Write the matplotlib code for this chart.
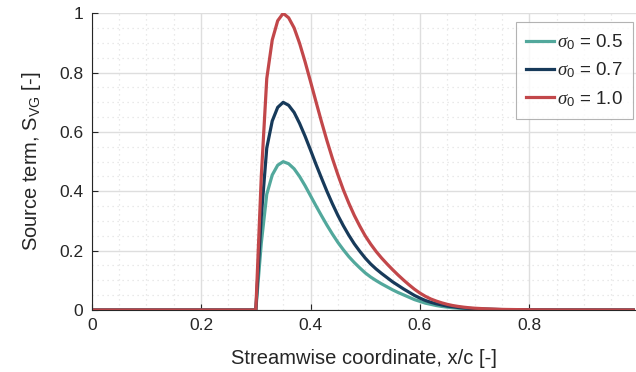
import matplotlib
matplotlib.use('Agg')
import matplotlib.pyplot as plt
from matplotlib.ticker import MultipleLocator, FuncFormatter

# streamwise positions (x/c) where the curves are sampled
x_c = [0.0, 0.30, 0.31, 0.32, 0.33, 0.34, 0.35, 0.36, 0.37, 0.38, 0.39,
       0.40, 0.41, 0.42, 0.43, 0.44, 0.45, 0.46, 0.47, 0.48, 0.49,
       0.50, 0.51, 0.52, 0.53, 0.54, 0.55, 0.56, 0.57, 0.58, 0.59,
       0.60, 0.61, 0.62, 0.63, 0.64, 0.65, 0.66, 0.67, 0.68, 0.69,
       0.70, 0.72, 0.75, 0.80, 0.85, 0.99]

# source term, one list per sigma_0
s_05 = [0.0, 0.0, 0.225, 0.39, 0.455, 0.488, 0.5, 0.493, 0.476, 0.45, 0.419,
        0.385, 0.351, 0.318, 0.286, 0.256, 0.228, 0.203, 0.18, 0.16, 0.142,
        0.125, 0.111, 0.099, 0.088, 0.078, 0.068, 0.059, 0.051, 0.043, 0.035,
        0.029, 0.023, 0.019, 0.015, 0.012, 0.0095, 0.0075, 0.006, 0.0048, 0.0038,
        0.003, 0.002, 0.001, 0.0004, 0.0001, 0.0]
s_07 = [0.0, 0.0, 0.315, 0.546, 0.637, 0.683, 0.7, 0.69, 0.666, 0.629, 0.586,
        0.539, 0.491, 0.445, 0.4, 0.358, 0.319, 0.284, 0.252, 0.223, 0.198,
        0.175, 0.155, 0.138, 0.123, 0.109, 0.095, 0.083, 0.071, 0.06, 0.049,
        0.04, 0.032, 0.026, 0.021, 0.017, 0.013, 0.011, 0.0084, 0.0067, 0.0053,
        0.0042, 0.0028, 0.0014, 0.0005, 0.0001, 0.0]
s_10 = [0.0, 0.0, 0.45, 0.78, 0.91, 0.975, 1.0, 0.985, 0.951, 0.899, 0.837,
        0.77, 0.702, 0.635, 0.571, 0.511, 0.456, 0.405, 0.36, 0.319, 0.283,
        0.25, 0.222, 0.197, 0.175, 0.155, 0.136, 0.118, 0.101, 0.085, 0.07,
        0.057, 0.046, 0.037, 0.03, 0.024, 0.019, 0.015, 0.012, 0.0095, 0.0075,
        0.006, 0.004, 0.002, 0.0007, 0.0002, 0.0]

labels = ['$\\sigma_0$ = 0.5', '$\\sigma_0$ = 0.7', '$\\sigma_0$ = 1.0']
colors = ['#52a89c', '#173a5a', '#c2474a']

plt.rcParams['font.family'] = ['Liberation Sans', 'DejaVu Sans']
plt.rcParams['mathtext.fontset'] = 'custom'
plt.rcParams['mathtext.rm'] = 'Liberation Sans'
plt.rcParams['mathtext.it'] = 'Liberation Serif:italic'
plt.rcParams['mathtext.bf'] = 'Liberation Sans:bold'

txt = '#262626'
fig = plt.figure(figsize=(6.36, 3.72), dpi=100)
ax = fig.add_axes([0.1442, 0.1667, 0.8558, 0.7975])

for s, lab, c in zip([s_05, s_07, s_10], labels, colors):
    ax.plot(x_c, s, color=c, lw=2.3, label=lab)

ax.set_xlim(0, 0.995)
ax.set_ylim(0, 1)
ax.xaxis.set_major_locator(MultipleLocator(0.2))
ax.yaxis.set_major_locator(MultipleLocator(0.2))
ax.xaxis.set_minor_locator(MultipleLocator(0.05))
ax.yaxis.set_minor_locator(MultipleLocator(0.05))
fmt = FuncFormatter(lambda v, p: ('%g' % round(v, 2)))
ax.xaxis.set_major_formatter(fmt)
ax.yaxis.set_major_formatter(fmt)

ax.grid(which='major', color='#dedede', lw=1.0, ls='-')
ax.grid(which='minor', color='#e2e2e2', lw=0.9, ls=(0, (1, 3)))
ax.set_axisbelow(True)

for side in ['top', 'right']:
    ax.spines[side].set_visible(False)
for side in ['left', 'bottom']:
    ax.spines[side].set_color(txt)
    ax.spines[side].set_linewidth(0.8)
ax.tick_params(which='major', direction='in', length=4, width=0.8, colors=txt,
               labelsize=12.5, pad=6)
ax.tick_params(which='minor', length=0)

ax.set_xlabel('Streamwise coordinate, x/c [-]', fontsize=14.5, color=txt, labelpad=11)
ax.set_ylabel('Source term, S$_{\\mathrm{VG}}$ [-]', fontsize=14.5, color=txt, labelpad=12)

leg = ax.legend(loc='upper right', fontsize=13.5, frameon=True, fancybox=False,
                handlelength=1.5, handletextpad=0.15, borderpad=0.55,
                labelspacing=0.45, borderaxespad=0, bbox_to_anchor=(0.9945, 0.97))
leg.get_frame().set_edgecolor('#a0a0a0')
leg.get_frame().set_linewidth(0.8)
for t in leg.get_texts():
    t.set_color(txt)

fig.savefig('out.png', dpi=100)
